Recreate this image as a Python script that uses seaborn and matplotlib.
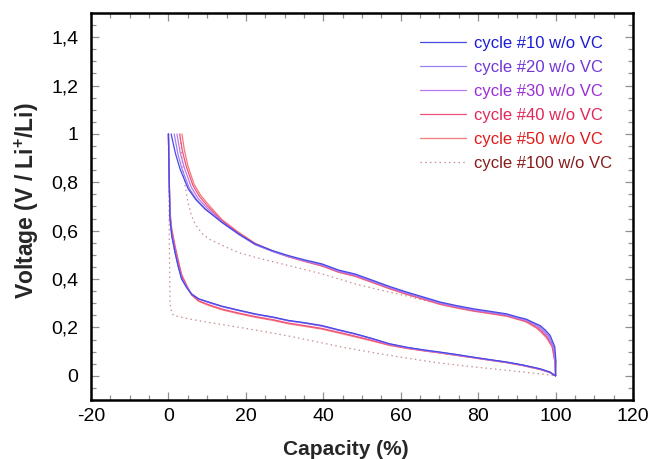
import numpy as np
import pandas as pd
import matplotlib
matplotlib.use("Agg")
import matplotlib.pyplot as plt
from matplotlib.lines import Line2D
from matplotlib.ticker import MultipleLocator, FuncFormatter
import seaborn as sns

# ---------------- data: galvanostatic cycles, capacity (%) vs voltage (V) ----------------
cycles = ["cycle #10 w/o VC", "cycle #20 w/o VC", "cycle #30 w/o VC",
          "cycle #40 w/o VC", "cycle #50 w/o VC", "cycle #100 w/o VC"]

# discharge (lithiation) branch, shared capacity grid
dis_x = [0.0, 0.15, 0.4, 0.85, 1.7, 2.55, 3.4, 4.7, 6.0, 7.8, 10.4, 13.8, 18.0,
         22.4, 27.0, 31.0, 35.0, 39.6, 44.0, 48.2, 52.9, 57.0, 61.6, 66.0, 70.2,
         74.5, 78.8, 83.0, 87.4, 91.5, 96.0, 98.5, 100.0]
dis_v10 = [1.00, 0.85, 0.65, 0.58, 0.51, 0.45, 0.40, 0.365, 0.337, 0.318, 0.305, 0.288, 0.272,
           0.256, 0.243, 0.229, 0.220, 0.208, 0.190, 0.174, 0.153, 0.133, 0.118, 0.107, 0.098,
           0.088, 0.077, 0.067, 0.057, 0.045, 0.029, 0.016, 0.0]
dis_v20 = [1.00, 0.85, 0.65, 0.58, 0.51, 0.452, 0.402, 0.366, 0.338, 0.318, 0.304, 0.287, 0.271,
           0.255, 0.242, 0.228, 0.219, 0.207, 0.189, 0.173, 0.152, 0.132, 0.117, 0.106, 0.097,
           0.087, 0.076, 0.066, 0.056, 0.044, 0.028, 0.015, 0.0]
dis_v30 = [1.00, 0.85, 0.66, 0.59, 0.52, 0.458, 0.405, 0.368, 0.339, 0.318, 0.303, 0.286, 0.270,
           0.254, 0.241, 0.227, 0.218, 0.205, 0.188, 0.172, 0.151, 0.131, 0.116, 0.105, 0.096,
           0.086, 0.076, 0.066, 0.056, 0.044, 0.028, 0.015, 0.0]
dis_v40 = [1.00, 0.86, 0.67, 0.60, 0.53, 0.47, 0.415, 0.372, 0.334, 0.310, 0.294, 0.276, 0.260,
           0.245, 0.232, 0.218, 0.208, 0.196, 0.180, 0.164, 0.145, 0.128, 0.114, 0.104, 0.095,
           0.085, 0.075, 0.065, 0.055, 0.043, 0.027, 0.014, 0.0]
dis_v50 = [1.00, 0.86, 0.68, 0.61, 0.54, 0.478, 0.42, 0.375, 0.335, 0.308, 0.291, 0.273, 0.257,
           0.242, 0.229, 0.215, 0.205, 0.193, 0.177, 0.161, 0.143, 0.126, 0.113, 0.103, 0.094,
           0.084, 0.074, 0.064, 0.054, 0.042, 0.026, 0.013, 0.0]
dis_x100 = [0.0, 0.2, 0.4, 0.8, 1.3, 5.0, 10.0, 20.0, 30.0, 40.0, 45.0, 55.0,
            62.0, 70.0, 80.0, 88.0, 96.0, 100.0]
dis_v100 = [1.00, 0.60, 0.30, 0.262, 0.250, 0.236, 0.222, 0.196, 0.168, 0.135, 0.118, 0.090,
            0.072, 0.053, 0.035, 0.022, 0.008, 0.0]

# charge (delithiation) branch, from full discharge back up to 1 V
chg_x10 = [100.0, 100.1, 99.8, 98.6, 97.3, 96.0, 94.0, 92.5, 90.0, 87.4, 83.0, 78.8, 74.5,
           70.2, 66.0, 61.6, 57.0, 52.9, 48.2, 44.0, 39.6, 35.0, 31.0, 27.0, 22.4, 18.1,
           13.8, 9.4, 7.0, 5.1, 3.0, 1.8, 0.7]
chg_v10 = [0.0, 0.06, 0.12, 0.167, 0.19, 0.208, 0.222, 0.234, 0.244, 0.256, 0.267, 0.277, 0.290,
           0.305, 0.325, 0.346, 0.370, 0.394, 0.421, 0.437, 0.463, 0.480, 0.497, 0.517, 0.545, 0.587,
           0.635, 0.690, 0.730, 0.773, 0.855, 0.920, 1.00]
chg_x20 = [100.0, 100.0, 99.6, 98.3, 97.0, 95.8, 94.0, 92.5, 90.0, 87.4, 83.0, 78.8, 74.5,
           70.2, 66.0, 61.6, 57.0, 52.9, 48.2, 44.0, 39.6, 35.0, 31.0, 27.0, 22.4, 18.1,
           13.8, 9.6, 7.2, 5.4, 3.5, 2.4, 1.5]
chg_v20 = [0.0, 0.06, 0.12, 0.165, 0.188, 0.205, 0.219, 0.231, 0.241, 0.253, 0.264, 0.274, 0.287,
           0.302, 0.322, 0.343, 0.367, 0.391, 0.418, 0.434, 0.460, 0.477, 0.494, 0.514, 0.542, 0.585,
           0.634, 0.690, 0.730, 0.775, 0.855, 0.920, 1.00]
chg_x30 = [100.0, 99.9, 99.4, 98.0, 96.7, 95.5, 94.0, 92.5, 90.0, 87.4, 83.0, 78.8, 74.5,
           70.2, 66.0, 61.6, 57.0, 52.9, 48.2, 44.0, 39.6, 35.0, 31.0, 27.0, 22.4, 18.1,
           13.8, 9.9, 7.6, 5.9, 4.1, 3.0, 2.2]
chg_v30 = [0.0, 0.06, 0.12, 0.163, 0.186, 0.203, 0.217, 0.229, 0.239, 0.251, 0.262, 0.272, 0.285,
           0.300, 0.320, 0.341, 0.365, 0.389, 0.416, 0.432, 0.458, 0.476, 0.493, 0.514, 0.543, 0.587,
           0.638, 0.695, 0.735, 0.780, 0.860, 0.925, 1.00]
chg_x40 = [100.0, 99.8, 99.2, 97.8, 96.4, 95.2, 93.7, 92.3, 90.0, 87.4, 83.0, 78.8, 74.5,
           70.2, 66.0, 61.6, 57.0, 52.9, 48.2, 44.0, 39.6, 35.0, 31.0, 27.0, 22.4, 18.1,
           13.8, 10.2, 8.0, 6.3, 4.6, 3.6, 2.9]
chg_v40 = [0.0, 0.06, 0.12, 0.160, 0.183, 0.200, 0.214, 0.226, 0.236, 0.248, 0.259, 0.269, 0.282,
           0.297, 0.317, 0.338, 0.362, 0.386, 0.413, 0.429, 0.455, 0.474, 0.492, 0.514, 0.545, 0.590,
           0.642, 0.700, 0.742, 0.788, 0.866, 0.930, 1.00]
chg_x50 = [100.0, 99.8, 99.1, 97.6, 96.2, 95.0, 93.5, 92.2, 90.0, 87.4, 83.0, 78.8, 74.5,
           70.2, 66.0, 61.6, 57.0, 52.9, 48.2, 44.0, 39.6, 35.0, 31.0, 27.0, 22.4, 18.1,
           13.8, 10.5, 8.3, 6.6, 5.0, 4.1, 3.5]
chg_v50 = [0.0, 0.06, 0.12, 0.158, 0.181, 0.198, 0.212, 0.224, 0.234, 0.246, 0.257, 0.267, 0.280,
           0.295, 0.315, 0.336, 0.360, 0.384, 0.411, 0.428, 0.454, 0.474, 0.493, 0.516, 0.548, 0.594,
           0.646, 0.705, 0.747, 0.793, 0.870, 0.935, 1.00]
chg_x100 = [100.0, 99.9, 99.4, 98.2, 96.0, 92.5, 88.0, 80.0, 72.0, 66.0, 61.6, 56.0,
            48.2, 40.0, 31.0, 22.4, 18.0, 13.8, 10.5, 8.6, 7.0, 6.0, 5.0, 4.3, 3.6, 3.0]
chg_v100 = [0.0, 0.06, 0.12, 0.160, 0.198, 0.226, 0.246, 0.268, 0.291, 0.312, 0.330, 0.350,
            0.380, 0.420, 0.456, 0.490, 0.510, 0.540, 0.565, 0.590, 0.625, 0.660, 0.720, 0.786,
            0.880, 1.00]

discharge_v = [dis_v10, dis_v20, dis_v30, dis_v40, dis_v50, dis_v100]
discharge_x = [dis_x, dis_x, dis_x, dis_x, dis_x, dis_x100]
charge_x = [chg_x10, chg_x20, chg_x30, chg_x40, chg_x50, chg_x100]
charge_v = [chg_v10, chg_v20, chg_v30, chg_v40, chg_v50, chg_v100]

line_colors = ["#4848e6", "#9c80f2", "#b878ee", "#f0507a", "#f57a7a", "#c89090"]
text_colors = ["#1c1cd4", "#7236d6", "#9a2ed6", "#e0285a", "#e01a1a", "#861c1c"]
dotted = (0, (1.2, 2.6))
line_styles = ["-", "-", "-", "-", "-", dotted]

xticks = [-20, 0, 20, 40, 60, 80, 100, 120]
yticks = [0, 0.2, 0.4, 0.6, 0.8, 1.0, 1.2, 1.4]

# ---------------- style ----------------
sns.set_theme(style="ticks")
plt.rcParams["font.family"] = ["Liberation Sans", "DejaVu Sans"]
plt.rcParams["mathtext.fontset"] = "custom"
plt.rcParams["mathtext.rm"] = "Liberation Sans"
plt.rcParams["mathtext.bf"] = "Liberation Sans:bold"

fig = plt.figure(figsize=(6.54, 4.59), dpi=100)
ax = fig.add_axes([91 / 654, 59 / 459, 542 / 654, 387 / 459])

for i, name in enumerate(cycles):
    z = 10 - i
    for xs, vs in ((discharge_x[i], discharge_v[i]), (charge_x[i], charge_v[i])):
        frame = pd.DataFrame({"capacity": xs, "voltage": vs})
        sns.lineplot(data=frame, x="capacity", y="voltage", sort=False, estimator=None,
                     color=line_colors[i], linestyle=line_styles[i], linewidth=0.9,
                     ax=ax, zorder=z)

ax.set_xlim(-20, 120)
ax.set_ylim(-0.1, 1.5)
ax.set_xticks(xticks)
ax.set_yticks(yticks)
ax.xaxis.set_minor_locator(MultipleLocator(5))
ax.yaxis.set_minor_locator(MultipleLocator(0.05))
ax.yaxis.set_major_formatter(FuncFormatter(lambda v, p: f"{v:g}".replace(".", ",")))
ax.xaxis.set_major_formatter(FuncFormatter(lambda v, p: f"{v:g}"))

ax.tick_params(which="both", direction="in", top=True, right=True, color="#909090",
               width=0.9, labelsize=14, labelcolor="black")
ax.tick_params(which="major", length=6)
ax.tick_params(which="minor", length=3.5)
ax.tick_params(axis="y", which="major", pad=9)
ax.tick_params(axis="x", which="major", pad=6)
for s in ax.spines.values():
    s.set_linewidth(1.8)
    s.set_color("black")

ax.set_xlabel("Capacity (%)", fontsize=15, fontweight="bold")
ax.set_ylabel(r"Voltage (V / Li$^{\mathbf{+}}$/Li)", fontsize=16.5, fontweight="bold")
ax.xaxis.set_label_coords(0.47, -0.103)
ax.yaxis.set_label_coords(-0.093, 0.515)

handles = [Line2D([], [], color=c, linestyle=ls, linewidth=0.9)
           for c, ls in zip(line_colors, line_styles)]
leg = ax.legend(handles, cycles, loc="upper left", bbox_to_anchor=(0.607, 0.94),
                frameon=False, fontsize=12, handlelength=2.75, handletextpad=0.48,
                labelspacing=0.54, borderpad=0, borderaxespad=0, labelcolor=text_colors)

fig.savefig("out.png", dpi=100)
